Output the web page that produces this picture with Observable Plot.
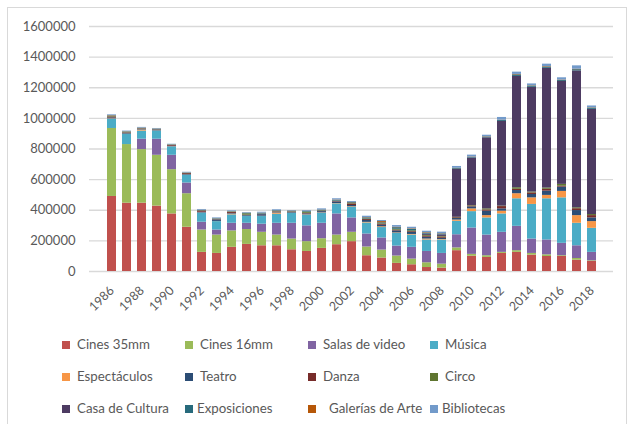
<!DOCTYPE html>
<html>
<head>
<meta charset="utf-8">
<script src="https://cdn.jsdelivr.net/npm/d3@7"></script>
<script src="https://cdn.jsdelivr.net/npm/@observablehq/plot@0.6"></script>
<style>
  html, body { margin: 0; padding: 0; background: #fff; }
  body { font-family: Lato, "Open Sans", sans-serif; }
  #wrap { position: relative; width: 630px; height: 424px; overflow: hidden; }
  #frame { position: absolute; left: 7px; top: 7px; width: 620px; height: 430px; border: 1px solid #d9d9d9; box-sizing: border-box; }
  #chart { position: absolute; left: 0; top: 0; }
  #chart g[aria-label="x-axis tick label"] { font-size: 12.5px; }
  .item { position: absolute; font-size: 13.3px; color: #595959; white-space: nowrap; line-height: 16px; transform: translateY(-50%); }
  .sw { display: inline-block; width: 8px; height: 8px; vertical-align: middle; position: relative; top: -1px; }
</style>
</head>
<body>
<div id="wrap">
  <div id="frame"></div>
  <div id="chart"></div>
  <div id="legend"></div>
</div>
<script>
const years = [1986,1987,1988,1989,1990,1991,1992,1993,1994,1995,1996,1997,1998,1999,2000,2001,2002,2003,2004,2005,2006,2007,2008,2009,2010,2011,2012,2013,2014,2015,2016,2017,2018];
const yTicks = [0,200000,400000,600000,800000,1000000,1200000,1400000,1600000];
const series = ["Cines 35mm","Cines 16mm","Salas de video","Música","Espectáculos","Teatro","Danza","Circo","Casa de Cultura","Exposiciones","Galerías de Arte","Bibliotecas"];
const colors = ["#C0504D","#9BBB59","#8064A2","#4BACC6","#F79646","#2C4D75","#772C2A","#5F7530","#4D3B62","#276A7C","#B65708","#729ACA"];

const cines35 = [490000,446000,446000,427000,376000,289000,125000,118000,158000,177000,168000,168000,142000,131000,151000,175000,195000,103000,88000,53000,44000,26000,22000,136000,100000,92000,118000,125000,107000,98000,98000,74000,66000];
const cines16 = [444000,383000,350000,332000,289000,219000,146000,120000,107000,97000,88000,70000,70000,64000,63000,63000,61000,57000,52000,48000,37000,31000,26000,18000,12000,11000,7000,11000,11000,11000,5000,11000,4000];
const salasVideo = [0,0,68000,105000,94000,70000,51000,33000,50000,41000,53000,77000,103000,103000,101000,138000,94000,85000,79000,65000,77000,74000,70000,86000,172000,135000,131000,159000,94000,97000,81000,83000,55000];
const musica = [61000,66000,53000,53000,55000,50000,59000,55000,55000,44000,50000,59000,64000,70000,66000,66000,70000,72000,68000,83000,80000,75000,88000,88000,107000,112000,120000,180000,226000,269000,297000,147000,157000];
const espectaculos = [2000,2000,7000,1000,1000,1000,1000,1000,5000,2000,2000,8000,2000,2000,2000,2000,3000,4000,5000,3000,4000,6000,3000,8000,18000,15000,18000,33000,43000,22000,42000,50000,44000];
const teatro = [6000,6000,5000,6000,3000,4000,5000,10000,4000,5000,10000,5000,5000,6000,8000,10000,8000,12000,10000,13000,13000,12000,8000,10000,13000,29000,15000,21000,22000,28000,28000,33000,24000];
const danza = [6000,3000,3000,2000,5000,6000,8000,2000,6000,2000,3000,3000,3000,4000,3000,3000,10000,6000,6000,5000,5000,6000,8000,5000,6000,8000,15000,8000,10000,12000,6000,12000,15000];
const circo = [4000,4000,2000,2000,2000,2000,2000,2000,3000,9000,2000,2000,2000,8000,3000,3000,3000,4000,4000,6000,6000,6000,4000,3000,3000,7000,3000,10000,6000,8000,12000,6000,7000];
const casaCultura = [0,0,0,0,0,0,0,0,0,0,0,0,0,0,0,0,0,0,0,0,0,8000,10000,313000,310000,464000,553000,727000,684000,782000,672000,894000,687000];
const exposiciones = [3000,2000,2000,2000,2000,2000,2000,3000,2000,3000,4000,4000,3000,4000,4000,5000,5000,7000,6000,10000,10000,7000,6000,5000,5000,5000,6000,10000,8000,8000,6000,8000,8000];
const galerias = [2000,1000,1000,1000,1000,1000,1000,1000,1000,1000,1000,1000,1000,1000,1000,2000,2000,2000,8000,3000,3000,3000,2000,2000,2000,2000,2000,3000,2000,3000,3000,3000,2000];
const bibliotecas = [5000,4000,4000,3000,3000,4000,5000,5000,5000,4000,6000,6000,3000,5000,7000,8000,6000,9000,7000,11000,10000,9000,10000,12000,12000,10000,18000,15000,12000,16000,15000,22000,12000];

const valuesBySeries = [cines35, cines16, salasVideo, musica, espectaculos, teatro, danza, circo, casaCultura, exposiciones, galerias, bibliotecas];

const data = [];
years.forEach((yr, i) => {
  series.forEach((s, k) => {
    data.push({year: yr, series: s, value: valuesBySeries[k][i]});
  });
});

const chart = Plot.plot({
  width: 630,
  height: 330,
  marginLeft: 89,
  marginRight: 17,
  marginTop: 26,
  marginBottom: 59,
  style: {fontFamily: "Lato, 'Open Sans', sans-serif", fontSize: "13px", color: "#595959", background: "transparent", overflow: "visible"},
  x: {type: "band", domain: years, paddingInner: 0.4, paddingOuter: 0.2, label: null, tickSize: 0, tickPadding: 17, tickRotate: -45, ticks: years.filter(y => y % 2 === 0), tickFormat: d => String(d)},
  y: {domain: [0, 1600000], label: null, ticks: yTicks, tickSize: 0, tickPadding: 14, tickFormat: d => String(d)},
  color: {domain: series, range: colors},
  marks: [
    Plot.ruleY(yTicks, {stroke: "#d9d9d9", strokeWidth: 1.3}),
    Plot.barY(data, {x: "year", y: "value", fill: "series", order: null})
  ]
});
document.getElementById("chart").appendChild(chart);

// Legend (HTML, below the SVG area)
const legend = document.getElementById("legend");
const colX = [62, 185, 308, 430];
const rowY = [344, 376, 408];
const gapFor = {"Exposiciones": 4, "Galerías de Arte": 13, "Bibliotecas": 4};
series.forEach((s, k) => {
  const row = Math.floor(k / 4), col = k % 4;
  const item = document.createElement("div");
  item.className = "item";
  item.style.left = colX[col] + "px";
  item.style.top = rowY[row] + "px";
  const sw = document.createElement("span");
  sw.className = "sw";
  sw.style.background = colors[k];
  sw.style.marginRight = (gapFor[s] !== undefined ? gapFor[s] : 7) + "px";
  item.appendChild(sw);
  item.appendChild(document.createTextNode(s));
  legend.appendChild(item);
});
</script>
</body>
</html>
